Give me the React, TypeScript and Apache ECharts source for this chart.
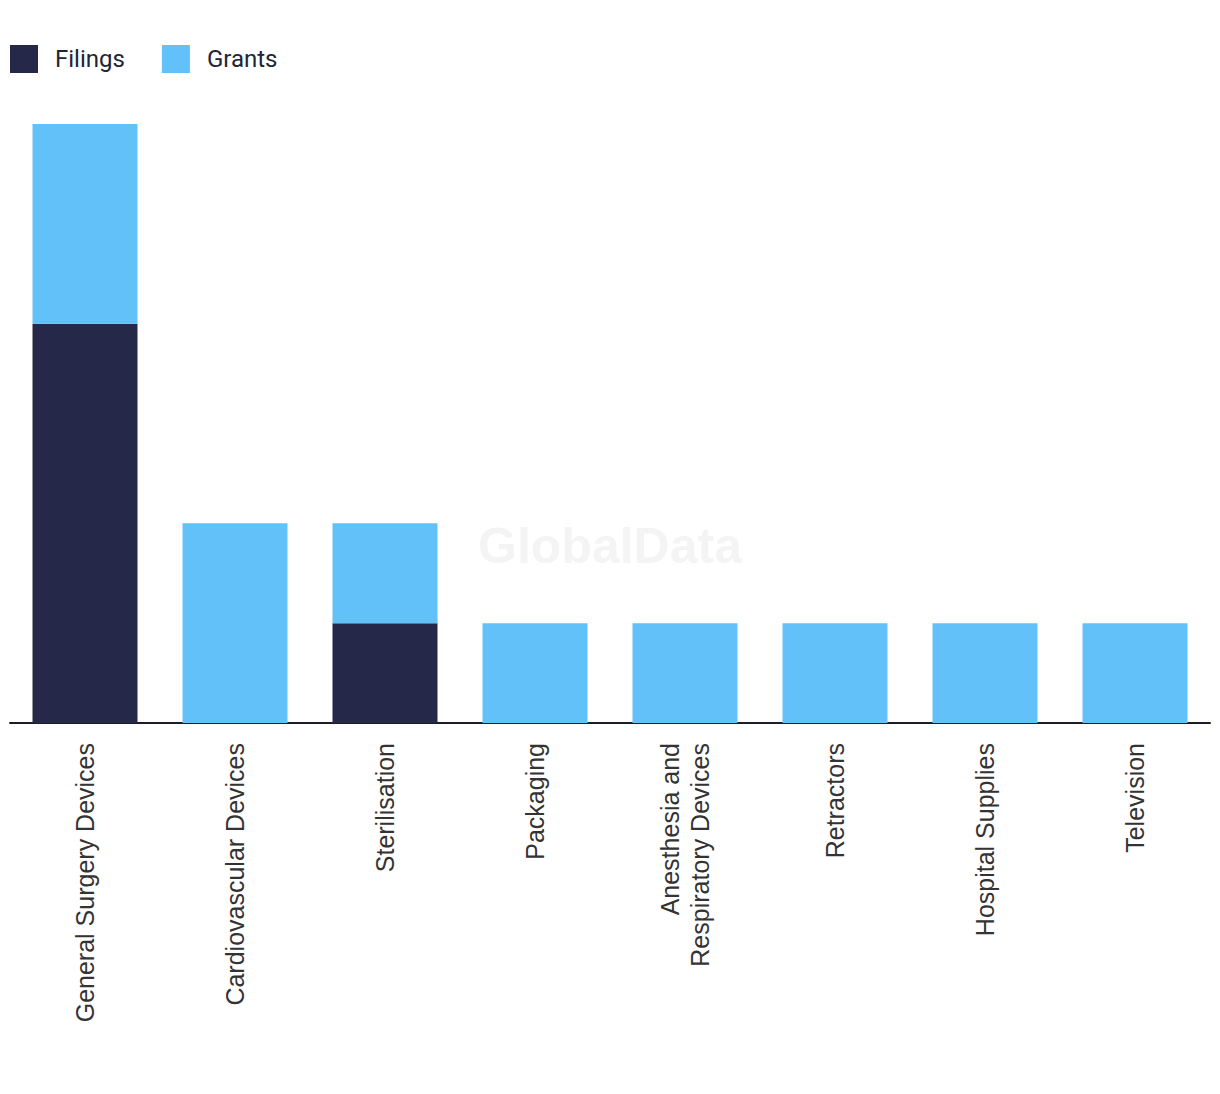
import React, { useEffect, useRef } from "react";
import * as echarts from "echarts";

const categories = [
  "General Surgery Devices",
  "Cardiovascular Devices",
  "Sterilisation",
  "Packaging",
  "Anesthesia and\nRespiratory Devices",
  "Retractors",
  "Hospital Supplies",
  "Television",
];
const filings = [4, 0, 1, 0, 0, 0, 0, 0];
const grants = [2, 2, 1, 1, 1, 1, 1, 1];

export default function App() {
  const ref = useRef<HTMLDivElement>(null);
  useEffect(() => {
    const chart = echarts.init(ref.current!, undefined, { renderer: "svg" });
    chart.setOption({
      animation: false,
      legend: {
        left: 10,
        top: 45,
        padding: 0,
        itemWidth: 28,
        itemHeight: 28,
        itemGap: 37,
        icon: "rect",
        textStyle: {
          fontSize: 24,
          color: "#222437",
          fontFamily: "Roboto, Liberation Sans, sans-serif",
          padding: [0, 0, 0, 12],
        },
        data: ["Filings", "Grants"],
      },
      graphic: [
        {
          type: "text",
          left: "center",
          top: 521,
          style: {
            text: "GlobalData",
            fontSize: 50,
            fontWeight: "bold",
            fill: "#f4f4f4",
            fontFamily: "Liberation Sans, sans-serif",
          },
          z: -1,
        },
      ],
      grid: { left: 10, right: 10, top: 124, bottom: 371, containLabel: false },
      xAxis: {
        type: "category",
        data: categories,
        axisLine: { lineStyle: { color: "#1c1c2c", width: 2 } },
        axisTick: { show: false },
        axisLabel: {
          rotate: 90,
          fontSize: 25,
          color: "#333",
          margin: 20,
          lineHeight: 30,
          fontFamily: "Liberation Sans, Arial, sans-serif",
          interval: 0,
        },
      },
      yAxis: {
        type: "value",
        min: 0,
        max: 6,
        show: false,
        splitLine: { show: false },
      },
      series: [
        {
          name: "Filings",
          type: "bar",
          stack: "a",
          data: filings,
          barWidth: 105,
          itemStyle: { color: "#262849" },
        },
        {
          name: "Grants",
          type: "bar",
          stack: "a",
          data: grants,
          barWidth: 105,
          itemStyle: { color: "#62c1f8" },
        },
      ],
    });
    return () => chart.dispose();
  }, []);
  return (
    <div
      ref={ref}
      style={{ position: "absolute", left: 0, top: 0, width: 1220, height: 1094 }}
    />
  );
}
